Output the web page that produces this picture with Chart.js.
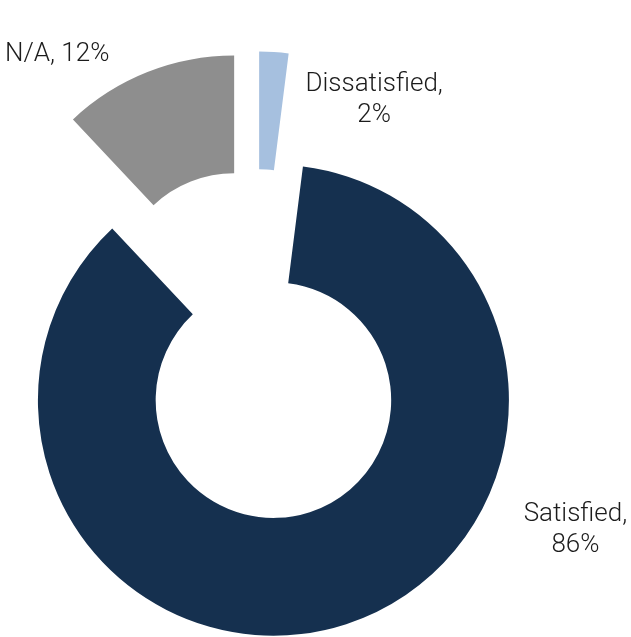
<!DOCTYPE html>
<html>
<head>
<meta charset="utf-8">
<style>
  html, body { margin: 0; padding: 0; background: #fff; }
  #wrap { width: 631px; height: 637px; position: relative; }
</style>
<script src="https://cdn.jsdelivr.net/npm/chart.js@4/dist/chart.umd.min.js"></script>
</head>
<body>
<div id="wrap"><canvas id="survey-chart"></canvas></div>
<script>
const categories = ['Dissatisfied', 'Satisfied', 'N/A'];
const shares = [2, 86, 12];

const sliceColors = ['#a6c0df', '#15304f', '#8e8e8e'];
// how far each slice is pulled out from the centre, px
const explode = 58;
// where each label's first line sits, relative to its slice centre
const labelOffsets = [
    { dx: 115, dy: -196, lines: 2 },
    { dx: 302, dy: 121, lines: 2 },
    { dx: -177, dy: -230, lines: 1 },
];

const explodeSlices = {
    id: 'explodeSlices',
    afterDatasetUpdate(chart, args) {
        args.meta.data.forEach((arc) => {
            const mid = (arc.startAngle + arc.endAngle) / 2;
            arc.x += Math.cos(mid) * explode;
            arc.y += Math.sin(mid) * explode;
        });
    },
};

const sliceLabels = {
    id: 'sliceLabels',
    afterDatasetsDraw(chart) {
        const ctx = chart.ctx;
        const arcs = chart.getDatasetMeta(0).data;
        ctx.save();
        ctx.font = '300 26px Roboto, "Liberation Sans", Arial, sans-serif';
        ctx.fillStyle = '#1c1c1c';
        ctx.textAlign = 'center';
        ctx.textBaseline = 'alphabetic';
        arcs.forEach((arc, i) => {
            const pos = labelOffsets[i];
            const x = arc.x + pos.dx;
            const y = arc.y + pos.dy;
            const name = categories[i] + ',';
            const pct = shares[i] + '%';
            if (pos.lines === 1) {
                ctx.fillText(name + ' ' + pct, x, y);
            } else {
                ctx.fillText(name, x, y);
                ctx.fillText(pct, x, y + 31);
            }
        });
        ctx.restore();
    },
};

new Chart(document.getElementById('survey-chart'), {
    type: 'doughnut',
    data: {
        labels: categories,
        datasets: [
            {
                data: shares,
                backgroundColor: sliceColors,
                borderWidth: 0,
            },
        ],
    },
    options: {
        responsive: true,
        maintainAspectRatio: false,
        animation: false,
        cutout: '50%',
        layout: {
            padding: { left: 20, right: 140, top: 109, bottom: 56 },
        },
        plugins: {
            legend: { display: false },
            tooltip: { enabled: false },
        },
    },
    plugins: [explodeSlices, sliceLabels],
});
</script>
</body>
</html>
